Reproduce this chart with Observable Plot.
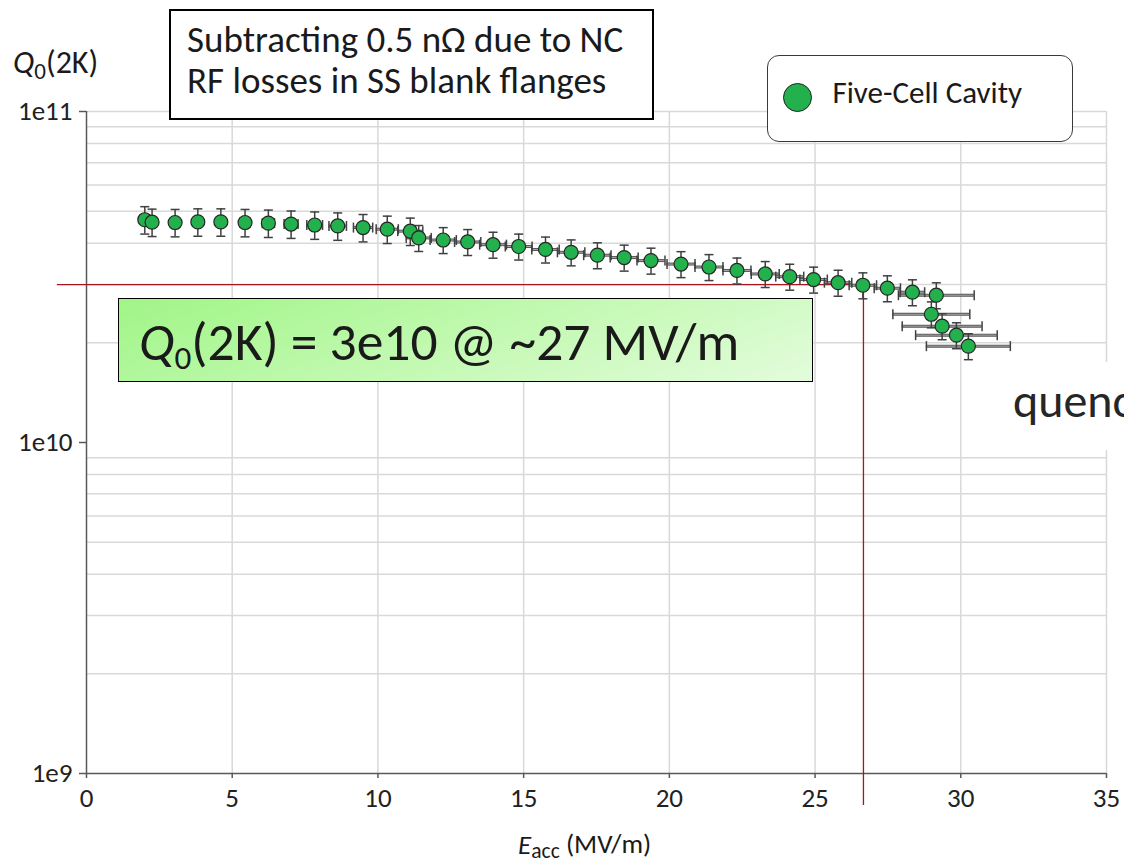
<!DOCTYPE html>
<html><head><meta charset="utf-8">
<script src="https://cdn.jsdelivr.net/npm/d3@7"></script>
<script src="https://cdn.jsdelivr.net/npm/@observablehq/plot@0.6"></script>
<style>
body{margin:0;background:#fff;}
#wrap{position:relative;width:1124px;height:866px;overflow:hidden;font-family:Carlito,Lato,sans-serif;color:#1a1a1a;background:#fff;}
#wrap svg{position:absolute;left:0;top:0;}
.ov{position:absolute;box-sizing:border-box;white-space:nowrap;}
</style></head><body>
<div id="wrap">
  <div class="ov" id="ytitle" style="left:13px;top:47px;font-size:32px;line-height:31px;"><i>Q</i><span style="font-size:0.72em;position:relative;top:0.28em;">0</span>(2K)</div>
  <div class="ov" id="xtitle" style="left:518px;top:831px;font-size:27px;line-height:27px;"><i>E</i><span style="font-size:0.8em;position:relative;top:0.2em;">acc</span> <span style="position:relative;top:-0.05em;">(MV/m)</span></div>
  <div class="ov" id="note1" style="left:169px;top:9px;width:485px;height:111px;border:2px solid #000;background:#fff;"></div>
  <div class="ov" style="left:187px;top:21px;font-size:37px;line-height:37px;">Subtracting 0.5 nΩ due to NC</div>
  <div class="ov" style="left:187px;top:62px;font-size:37px;line-height:37px;">RF losses in SS blank flanges</div>
  <div class="ov" id="legend" style="left:767px;top:55px;width:306px;height:87px;border:1.5px solid #3a3a3a;border-radius:12px;background:#fff;">
    <div class="ov" style="left:14.5px;top:26.5px;width:29px;height:29px;border-radius:50%;background:#22b14c;border:1.5px solid #222;"></div>
    <div class="ov" id="legtext" style="left:64.5px;top:21px;font-size:31px;line-height:31px;"></div>
  </div>
  <div class="ov" id="result" style="left:118px;top:298px;width:695px;height:84px;border:1.5px solid #000;background:linear-gradient(160deg,#a0f587 0%,#c2f9b1 50%,#e3fcdc 100%);padding:15.5px 0 0 20px;font-size:53.5px;line-height:53px;"><i>Q</i><span style="font-size:0.62em;position:relative;top:0.3em;">0</span>(2K) = 3e10 @ ~27 MV/m</div>
  <div class="ov" id="quench" style="left:992px;top:362px;width:140px;height:88px;background:#fff;"><div class="ov" style="left:21px;top:15px;font-size:48px;line-height:48px;color:#262626;">quench</div></div>
</div>
<script>
// ---- data ----
const seriesName = "Five-Cell Cavity";
const eField = [2.00,2.25,3.04,3.82,4.61,5.44,6.24,7.02,7.83,8.62,9.49,10.32,11.11,11.40,12.24,13.08,13.95,14.83,15.75,16.63,17.53,18.45,19.37,20.40,21.36,22.32,23.29,24.13,24.95,25.79,26.64,27.48,28.34,29.16,28.99,29.36,29.85,30.26];
const q0 = [4.71e10,4.63e10,4.62e10,4.64e10,4.64e10,4.62e10,4.60e10,4.57e10,4.54e10,4.51e10,4.46e10,4.41e10,4.35e10,4.15e10,4.09e10,4.035e10,3.96e10,3.91e10,3.83e10,3.755e10,3.68e10,3.62e10,3.545e10,3.46e10,3.39e10,3.31e10,3.23e10,3.17e10,3.107e10,3.04e10,2.986e10,2.925e10,2.845e10,2.786e10,2.44e10,2.246e10,2.11e10,1.955e10];
const eErr = [0.10,0.10,0.12,0.14,0.16,0.18,0.21,0.24,0.27,0.30,0.33,0.38,0.43,0.43,0.45,0.45,0.46,0.46,0.47,0.47,0.47,0.48,0.48,0.48,0.48,0.48,0.48,0.48,0.47,0.47,0.47,0.45,0.42,1.30,1.32,1.37,1.40,1.44];
const qErrPct = [9.5,9.5,9.5,9.5,9.5,9.5,9.5,9.5,9.5,9.5,9.5,9.5,9.5,9,9,9,9,9,9,9,9,9,9,9,9,9,9,9,9,9,9,9,9,9,9,9,9,9];
const xTicks = [0,5,10,15,20,25,30,35];
const yTicks = [1e9,1e10,1e11];
const yTickLabels = ["1e9","1e10","1e11"];
const gridMantissas = [2,3,4,5,6,7,8,9];
const q0Target = 3e10;      // Q0(2K) = 3e10
const eAtTarget = 26.66;    // ~27 MV/m
const guideXStart = -1.0;   // horizontal guide starts left of the axis
const guideYEnd = 8e8;      // vertical guide drops below the axis

const data = eField.map((e,i)=>({e, q:q0[i], eLo:e-eErr[i], eHi:e+eErr[i], qLo:q0[i]*(1-qErrPct[i]/100), qHi:q0[i]*(1+qErrPct[i]/100)}));
const yGrid = [];
for (const dec of [1e9,1e10]) for (const m of gridMantissas) yGrid.push(m*dec);
yGrid.push(1e11);

document.getElementById("legtext").textContent = seriesName;

const capH = {draw(ctx,size){const w=Math.sqrt(size/Math.PI);ctx.moveTo(-w,0);ctx.lineTo(w,0);}};
const capV = {draw(ctx,size){const w=Math.sqrt(size/Math.PI);ctx.moveTo(0,-w);ctx.lineTo(0,w);}};

const font = "Carlito, Lato, sans-serif";
const chart = Plot.plot({
  width:1124, height:866,
  marginLeft:86, marginRight:18, marginTop:111, marginBottom:93,
  style:{fontFamily:font, fontSize:"27px", color:"#222", background:"transparent", overflow:"visible"},
  x:{domain:[0,35]},
  y:{type:"log", domain:[1e9,1e11]},
  marks:[
    Plot.ruleY(yGrid,{stroke:"#d9d9d9",strokeWidth:1.5}),
    Plot.ruleX(xTicks.filter(d=>d>0),{stroke:"#d9d9d9",strokeWidth:1.5}),
    Plot.ruleX([0],{stroke:"#595959",strokeWidth:1.5}),
    Plot.ruleY([1e9],{stroke:"#595959",strokeWidth:1.5}),
    Plot.axisX(xTicks,{tickSize:5,tickPadding:9,fontSize:27,stroke:"#595959",strokeWidth:1.5,fill:"#222",label:null}),
    Plot.axisY(yTicks,{tickSize:7,tickPadding:7,fontSize:27,stroke:"#595959",strokeWidth:1.5,fill:"#222",label:null,tickFormat:d=>yTickLabels[yTicks.indexOf(d)]}),
    Plot.ruleY([q0Target],{x1:guideXStart,x2:eAtTarget,stroke:"#a8161c",strokeWidth:1.3}),
    Plot.ruleX([eAtTarget],{y1:q0Target,y2:guideYEnd,stroke:"#a8161c",strokeWidth:1.3}),
    Plot.ruleY(data,{y:"q",x1:"eLo",x2:"eHi",stroke:"#555",strokeWidth:3}),
    Plot.ruleY(data,{y:"q",x1:"eLo",x2:"eHi",stroke:"#aaa",strokeWidth:1}),
    Plot.dot(data,{x:"eLo",y:"q",symbol:capV,r:5,stroke:"#404040",strokeWidth:1.5,fill:"none"}),
    Plot.dot(data,{x:"eHi",y:"q",symbol:capV,r:5,stroke:"#404040",strokeWidth:1.5,fill:"none"}),
    Plot.ruleX(data,{x:"e",y1:"qLo",y2:"qHi",stroke:"#404040",strokeWidth:1.5}),
    Plot.dot(data,{x:"e",y:"qLo",symbol:capH,r:4.5,stroke:"#404040",strokeWidth:1.5,fill:"none"}),
    Plot.dot(data,{x:"e",y:"qHi",symbol:capH,r:4.5,stroke:"#404040",strokeWidth:1.5,fill:"none"}),
    Plot.dot(data,{x:"e",y:"q",r:7,fill:"#22b14c",stroke:"#262626",strokeWidth:1.2})
  ]
});
document.getElementById("wrap").prepend(chart);
</script>
</body></html>
